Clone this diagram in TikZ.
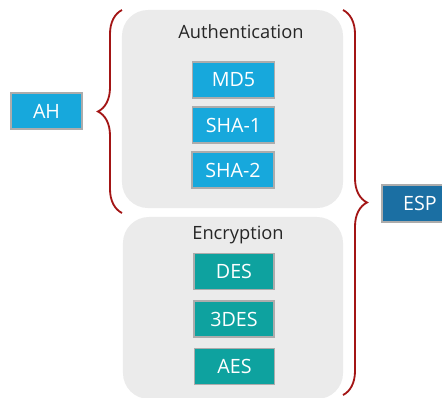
\documentclass[tikz,border=0pt]{standalone}
\usepackage{fontspec}
\setmainfont{Open Sans}
\usepackage{tikz}
\usetikzlibrary{decorations.pathreplacing,positioning}

\definecolor{ahblue}{HTML}{17A8DC}
\definecolor{espblue}{HTML}{1B6FA3}
\definecolor{encteal}{HTML}{0EA29F}
\definecolor{panelgray}{HTML}{EBEBEB}
\definecolor{bracered}{HTML}{A31515}

\tikzset{
  panel/.style={rectangle, rounded corners=0.65cm, fill=panelgray, draw=none},
  algbox/.style={rectangle, draw=gray!65, line width=0.8pt, text=white,
    minimum width=2.05cm, minimum height=0.9cm, inner sep=0pt,
    font=\fontsize{14}{16}\selectfont},
  authbox/.style={algbox, fill=ahblue},
  encbox/.style={algbox, fill=encteal},
  title/.style={font=\fontsize{13}{15}\selectfont, text=black!85},
  bracelink/.style={draw=bracered, line width=1.3pt,
    decorate, decoration={brace, amplitude=0.6cm}}
}

\begin{document}
\begin{tikzpicture}[x=0.025cm,y=-0.025cm]
\useasboundingbox (0,0) rectangle (442,397);

% grey panels
\node[panel, minimum width=5.525cm, minimum height=4.95cm] (authpanel) at (232.5,109) {};
\node[panel, minimum width=5.5cm, minimum height=4.55cm] (encpanel) at (233,308) {};

\node[title] (authtitle) at (241,32) {Authentication};
\node[title] (enctitle) at (238,235) {Encryption};

% hash algorithms
\node[authbox] (md5) at (233.5,80) {MD5};
\node[authbox] (sha1) at (233.5,125) {SHA-1};
\node[authbox] (sha2) at (233,170) {SHA-2};

% ciphers
\node[encbox, minimum width=2cm] (des) at (234,271.5) {DES};
\node[encbox, minimum width=2cm] (tdes) at (234,319) {3DES};
\node[encbox, minimum width=2cm] (aes) at (234.5,366.5) {AES};

% protocols
\node[authbox, minimum width=1.775cm] (ah) at (46.5,111) {AH};
\node[algbox, fill=espblue, minimum width=1.9cm, minimum height=0.925cm] (esp) at (420,203.5) {ESP};

% braces
\coordinate (ahtop) at (122,10);
\coordinate (ahbot) at (122,213);
\coordinate (esptop) at (343,10);
\coordinate (espbot) at (343,395);
\draw[bracelink] (ahbot) -- (ahtop);
\draw[bracelink] (esptop) -- (espbot);
\end{tikzpicture}
\end{document}
